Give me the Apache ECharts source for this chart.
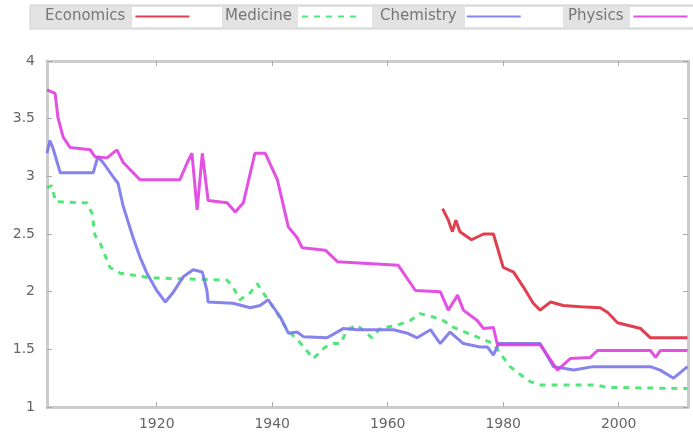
<!DOCTYPE html>
<html><head><meta charset="utf-8">
<script src="https://cdn.jsdelivr.net/npm/echarts@6/dist/echarts.min.js"></script>
<style>html,body{margin:0;padding:0;background:#fff}#c{width:693px;height:435px}</style>
</head><body><div id="c"></div>
<script>
const seriesNames = ['Economics', 'Medicine', 'Chemistry', 'Physics'];
const xTicks = [1920, 1940, 1960, 1980, 2000];

const economicsYears  = [1969.5, 1970.5, 1971.2, 1971.8, 1972.5, 1974.5, 1976.6, 1978.3, 1980, 1981.8, 1983.5, 1985.2, 1986.4, 1988.2, 1990.4, 1993.4, 1996.8, 1998.1, 1999.8, 2003.8, 2005.5, 2011.9];
const economicsValues = [2.72, 2.62, 2.52, 2.62, 2.52, 2.45, 2.5, 2.5, 2.21, 2.17, 2.04, 1.9, 1.84, 1.91, 1.88, 1.87, 1.86, 1.82, 1.73, 1.68, 1.6, 1.6];

const medicineYears  = [1901, 1901.8, 1902.5, 1907.9, 1908.8, 1909.3, 1910.2, 1911.9, 1913.7, 1918.9, 1932.2, 1933.2, 1934.4, 1936.2, 1937.4, 1938.3, 1939.3, 1940.9, 1942.6, 1944.8, 1947.1, 1949.2, 1950.6, 1951.8, 1953, 1954.7, 1957.3, 1958.7, 1961.7, 1963.9, 1965.6, 1967.9, 1969.6, 1971.4, 1973.8, 1978.3, 1980, 1981.2, 1983, 1984.7, 1986.4, 1996, 1998.1, 2011.9];
const medicineValues = [2.9, 2.92, 2.78, 2.77, 2.68, 2.49, 2.42, 2.21, 2.16, 2.12, 2.1, 2.04, 1.93, 1.99, 2.07, 2.0, 1.93, 1.81, 1.67, 1.56, 1.42, 1.52, 1.55, 1.55, 1.67, 1.71, 1.6, 1.68, 1.71, 1.75, 1.81, 1.78, 1.75, 1.69, 1.64, 1.55, 1.43, 1.35, 1.28, 1.22, 1.19, 1.19, 1.17, 1.16];

const chemistryYears  = [1901, 1901.5, 1902, 1903.3, 1909, 1909.8, 1910.7, 1912.4, 1913.3, 1914.2, 1915.9, 1917.1, 1918.3, 1920, 1921.5, 1922.8, 1924.6, 1926.3, 1927.9, 1928.7, 1928.9, 1933.2, 1936.2, 1937.9, 1939.3, 1941.4, 1942.8, 1944.3, 1945.4, 1949.5, 1952.3, 1954.7, 1961, 1963.4, 1965.1, 1967.4, 1969.1, 1970.8, 1973.1, 1976, 1977.3, 1978.3, 1979.2, 1986.4, 1988.7, 1992.2, 1995.6, 2005.5, 2007.2, 2009.5, 2011.9];
const chemistryValues = [3.2, 3.31, 3.25, 3.03, 3.03, 3.17, 3.12, 3.0, 2.94, 2.74, 2.47, 2.3, 2.16, 2.01, 1.91, 1.99, 2.13, 2.19, 2.17, 2.01, 1.91, 1.9, 1.86, 1.88, 1.93, 1.78, 1.64, 1.65, 1.61, 1.6, 1.68, 1.67, 1.67, 1.64, 1.6, 1.67, 1.55, 1.65, 1.55, 1.52, 1.52, 1.45, 1.55, 1.55, 1.35, 1.32, 1.35, 1.35, 1.32, 1.25, 1.35];

const physicsYears  = [1901, 1902.4, 1902.9, 1903.8, 1905, 1908.5, 1909.3, 1911.4, 1913.1, 1914.2, 1917.1, 1924, 1925.3, 1926.1, 1927, 1927.9, 1928.9, 1932.2, 1933.6, 1935, 1937, 1938.8, 1940.9, 1942.8, 1944.3, 1945.2, 1949.2, 1951.3, 1961.8, 1964.8, 1969.1, 1970.5, 1972.1, 1973.1, 1975.5, 1976.6, 1978.3, 1979, 1986.4, 1989.4, 1991.6, 1995.1, 1996.3, 2005.5, 2006.4, 2007.2, 2011.9];
const physicsValues = [3.75, 3.72, 3.51, 3.34, 3.25, 3.23, 3.17, 3.16, 3.23, 3.12, 2.97, 2.97, 3.12, 3.2, 2.71, 3.2, 2.79, 2.77, 2.69, 2.77, 3.2, 3.2, 2.97, 2.56, 2.47, 2.38, 2.36, 2.26, 2.23, 2.01, 2.0, 1.84, 1.97, 1.84, 1.75, 1.68, 1.69, 1.54, 1.54, 1.32, 1.42, 1.43, 1.49, 1.49, 1.43, 1.49, 1.49];

const colors = ['#dc2a3c', '#3fe36a', '#7a76ea', '#e03ee0'];
const zip = (xs, ys) => xs.map((x, i) => [x, ys[i]]);
const allData = [
  zip(economicsYears, economicsValues),
  zip(medicineYears, medicineValues),
  zip(chemistryYears, chemistryValues),
  zip(physicsYears, physicsValues)
];

const font = 'DejaVu Sans';
const axisGrey = '#cccccc';
const labelGrey = '#666666';
const legendLefts = [45, 225, 380, 568];

const chart = echarts.init(document.getElementById('c'), null, {renderer: 'canvas'});
chart.setOption({
  animation: false,
  backgroundColor: '#ffffff',
  graphic: [
    {type: 'rect', shape: {x: 30, y: 5, width: 670, height: 24}, style: {fill: '#e3e3e3', stroke: '#d0d0d0', lineWidth: 1}, z: 0},
    {type: 'rect', shape: {x: 132, y: 7, width: 90, height: 20}, style: {fill: '#ffffff'}, z: 1},
    {type: 'rect', shape: {x: 298, y: 7, width: 74, height: 20}, style: {fill: '#ffffff'}, z: 1},
    {type: 'rect', shape: {x: 465, y: 7, width: 98, height: 20}, style: {fill: '#ffffff'}, z: 1},
    {type: 'rect', shape: {x: 630, y: 7, width: 70, height: 20}, style: {fill: '#ffffff'}, z: 1}
  ],
  legend: seriesNames.map((n, i) => ({
    data: [n],
    left: legendLefts[i],
    top: 9,
    align: 'right',
    itemWidth: 54,
    itemHeight: 16,
    padding: 0,
    selectedMode: false,
    itemStyle: {opacity: 0},
    textStyle: {fontFamily: font, fontSize: 15, color: '#777', padding: [0, 5, 0, 0]}
  })),
  grid: {left: 47, right: 5, top: 61, bottom: 28, containLabel: false},
  xAxis: [
    {
      type: 'value', min: 1901, max: 2012, position: 'bottom',
      axisLine: {show: true, lineStyle: {color: axisGrey, width: 3}},
      axisTick: {show: true, inside: true, length: 5, customValues: xTicks, lineStyle: {color: '#aaa', width: 1}},
      axisLabel: {customValues: xTicks, formatter: v => String(v), fontFamily: font, fontSize: 14, color: labelGrey, margin: 10},
      splitLine: {show: false}
    },
    {
      type: 'value', min: 1901, max: 2012, position: 'top',
      axisLine: {show: true, lineStyle: {color: axisGrey, width: 3}},
      axisTick: {show: true, inside: true, length: 5, customValues: xTicks, lineStyle: {color: '#aaa', width: 1}},
      axisLabel: {show: false},
      splitLine: {show: false}
    }
  ],
  yAxis: [
    {
      type: 'value', min: 1, max: 4, interval: 0.5, position: 'left',
      axisLine: {show: true, lineStyle: {color: axisGrey, width: 3}},
      axisTick: {show: true, inside: true, length: 5, lineStyle: {color: '#aaa', width: 1}},
      axisLabel: {fontFamily: font, fontSize: 14, color: labelGrey, margin: 12},
      splitLine: {show: false}
    },
    {
      type: 'value', min: 1, max: 4, interval: 0.5, position: 'right',
      axisLine: {show: true, lineStyle: {color: axisGrey, width: 3}},
      axisTick: {show: true, inside: true, length: 5, lineStyle: {color: '#aaa', width: 1}},
      axisLabel: {show: false},
      splitLine: {show: false}
    }
  ],
  series: seriesNames.map((n, i) => ({
    name: n,
    type: 'line',
    data: allData[i],
    showSymbol: false,
    symbol: 'none',
    smooth: false,
    color: colors[i],
    lineStyle: {color: colors[i], width: 3, type: i === 1 ? [6, 6] : 'solid', opacity: 0.9},
    z: 2 + i
  }))
});
</script>
</body></html>
